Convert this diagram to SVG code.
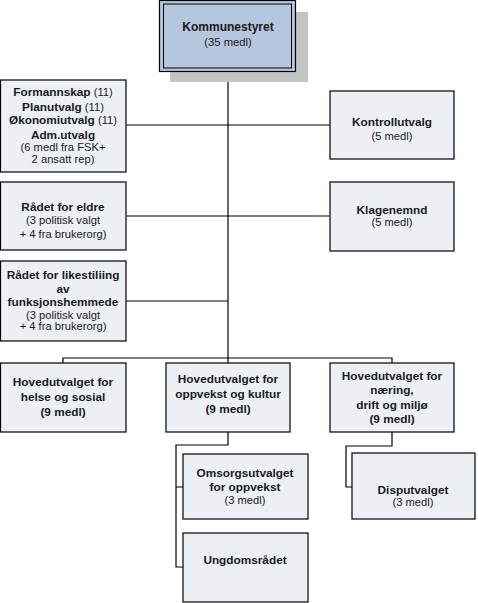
<svg xmlns="http://www.w3.org/2000/svg" width="478" height="603" viewBox="0 0 478 603">
<style>
.box{fill:#eceff4;stroke:#000;stroke-width:1.2}
.con{fill:none;stroke:#000;stroke-width:1.2}
text{font-family:"Liberation Sans",Arial,sans-serif;text-anchor:middle;fill:#1a1a1a}
.b{font-weight:bold;font-size:11.8px}
.r{font-size:11.2px}
.tb{font-weight:bold;font-size:12px}
</style>
<rect width="478" height="603" fill="#fff"/>
<g id="connectors">
<path class="con" d="M228,71 V358"/>
<path class="con" d="M126,125 H330"/>
<path class="con" d="M126,216 H330"/>
<path class="con" d="M126,301 H228"/>
<path class="con" d="M63,363 V358 H392 V363"/>
<path class="con" d="M228,358 V363"/>
<path class="con" d="M228,432 V445 H176 V567 H183 M176,487 H183"/>
<path class="con" d="M392,432 V446 H346 V487 H352"/>
</g>
<g id="kommunestyret">
<rect x="170" y="12" width="138" height="70" fill="#c3c3c3"/>
<rect x="159.5" y="0.5" width="136" height="71" fill="#b5c6df" stroke="#000" stroke-width="1.2"/>
<rect x="163.5" y="4" width="128" height="64" fill="none" stroke="#000" stroke-width="1"/>
<text class="tb" x="228" y="31">Kommunestyret</text>
<text class="r" x="228" y="46">(35 medl)</text>
</g>
<g id="formannskap">
<rect class="box" x="0.5" y="80" width="125.5" height="92"/>
<text x="63" y="96"><tspan class="b">Formannskap</tspan><tspan class="r"> (11)</tspan></text>
<text x="63" y="111"><tspan class="b">Planutvalg</tspan><tspan class="r"> (11)</tspan></text>
<text x="63" y="124"><tspan class="b">Økonomiutvalg</tspan><tspan class="r"> (11)</tspan></text>
<text class="b" x="63" y="139">Adm.utvalg</text>
<text class="r" x="63" y="151">(6 medl fra FSK+</text>
<text class="r" x="63" y="163">2 ansatt rep)</text>
</g>
<g id="eldre">
<rect class="box" x="0.5" y="182" width="125.5" height="68"/>
<text class="b" x="63" y="211">Rådet for eldre</text>
<text class="r" x="63" y="224">(3 politisk valgt</text>
<text class="r" x="63" y="238">+ 4 fra brukerorg)</text>
</g>
<g id="likestilling">
<rect class="box" x="0.5" y="261" width="125.5" height="80"/>
<text class="b" x="63" y="279">Rådet for likestiliing</text>
<text class="b" x="63" y="293">av</text>
<text class="b" x="63" y="306">funksjonshemmede</text>
<text class="r" x="63" y="319">(3 politisk valgt</text>
<text class="r" x="63" y="330">+ 4 fra brukerorg)</text>
</g>
<g id="kontrollutvalg">
<rect class="box" x="330" y="91" width="124" height="68"/>
<text class="b" x="392" y="126">Kontrollutvalg</text>
<text class="r" x="392" y="140">(5 medl)</text>
</g>
<g id="klagenemnd">
<rect class="box" x="330" y="182" width="124" height="69"/>
<text class="b" x="392" y="214">Klagenemnd</text>
<text class="r" x="392" y="226">(5 medl)</text>
</g>
<g id="helse">
<rect class="box" x="0.5" y="363" width="125.5" height="69"/>
<text class="b" x="63" y="386">Hovedutvalget for</text>
<text class="b" x="63" y="401">helse og sosial</text>
<text class="b" x="63" y="416">(9 medl)</text>
</g>
<g id="oppvekst">
<rect class="box" x="166" y="363" width="124" height="69"/>
<text class="b" x="228" y="383">Hovedutvalget for</text>
<text class="b" x="228" y="398">oppvekst og kultur</text>
<text class="b" x="228" y="413">(9 medl)</text>
</g>
<g id="naering">
<rect class="box" x="330" y="363" width="124" height="69"/>
<text class="b" x="392" y="380">Hovedutvalget for</text>
<text class="b" x="392" y="394">næring,</text>
<text class="b" x="392" y="409">drift og miljø</text>
<text class="b" x="392" y="423">(9 medl)</text>
</g>
<g id="omsorgsutvalget">
<rect class="box" x="183" y="454" width="125" height="65"/>
<text class="b" x="245" y="477">Omsorgsutvalget</text>
<text class="b" x="245" y="491">for oppvekst</text>
<text class="r" x="245" y="504">(3 medl)</text>
</g>
<g id="ungdomsradet">
<rect class="box" x="183" y="533" width="125" height="69"/>
<text class="b" x="245" y="564">Ungdomsrådet</text>
</g>
<g id="disputvalget">
<rect class="box" x="352" y="453" width="123" height="66"/>
<text class="b" x="413" y="494">Disputvalget</text>
<text class="r" x="413" y="506">(3 medl)</text>
</g>
</svg>
